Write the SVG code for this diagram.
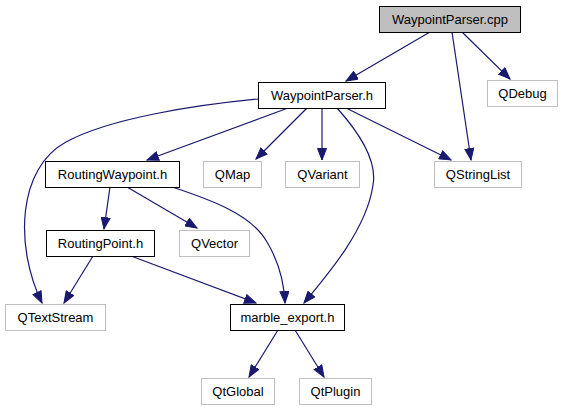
<svg xmlns="http://www.w3.org/2000/svg" width="564" height="411" viewBox="0 0 564 411">
<style>
text{font-family:"Liberation Sans",Arial,sans-serif;font-size:13px;text-anchor:middle;fill:#000}
.n rect{fill:#fff;stroke:#000;stroke-width:1}
.r rect{fill:#bfbfbf;stroke:#000;stroke-width:1}
.g rect{fill:#fff;stroke:#bfbfbf;stroke-width:1}
.e path{fill:none;stroke:#191970;stroke-width:1.2;marker-end:url(#a)}
</style>
<defs>
<marker id="a" markerWidth="13" markerHeight="10" refX="12" refY="5" orient="auto" markerUnits="userSpaceOnUse">
<path d="M0.5,0.5 L12,5 L0.5,9.5 z" fill="#191970" stroke="#191970"/>
</marker>
</defs>
<g id="edges" class="e">
<path d="M430,32 L346,81"/>
<path d="M452,32 L471,160"/>
<path d="M462,32 L510,79"/>
<path d="M258,99 C196,105 110,118 66,142 C18,168 14,245 42,303"/>
<path d="M288,108 L147,160"/>
<path d="M307,108 L256,159"/>
<path d="M322,108 L322,160"/>
<path d="M337,108 C355,128 378,158 373,185 C367,228 330,272 304,303"/>
<path d="M346,108 L451,160"/>
<path d="M110,187 L104,229"/>
<path d="M127,187 L197,228"/>
<path d="M172,187 C212,200 252,215 267,242 C279,262 284,282 285,303"/>
<path d="M93,256 L64,303"/>
<path d="M131,256 L256,303"/>
<path d="M278,330 L249,377"/>
<path d="M295,330 L324,377"/>
</g>
<g id="WaypointParser_cpp" class="r"><rect x="379.5" y="6.5" width="141" height="26"/><text x="450" y="24">WaypointParser.cpp</text></g>
<g id="QDebug" class="g"><rect x="487.5" y="80.5" width="70" height="26"/><text x="522.5" y="98">QDebug</text></g>
<g id="WaypointParser_h" class="n"><rect x="258.5" y="82.5" width="127" height="26"/><text x="322" y="100">WaypointParser.h</text></g>
<g id="RoutingWaypoint_h" class="n"><rect x="45.5" y="161.5" width="134" height="26"/><text x="112.5" y="179">RoutingWaypoint.h</text></g>
<g id="QMap" class="g"><rect x="203.5" y="161.5" width="58" height="26"/><text x="232.5" y="179">QMap</text></g>
<g id="QVariant" class="g"><rect x="285.5" y="161.5" width="74" height="26"/><text x="322.5" y="179">QVariant</text></g>
<g id="QStringList" class="g"><rect x="434.5" y="161.5" width="87" height="26"/><text x="478" y="179">QStringList</text></g>
<g id="RoutingPoint_h" class="n"><rect x="46.5" y="230.5" width="108" height="26"/><text x="100.5" y="248">RoutingPoint.h</text></g>
<g id="QVector" class="g"><rect x="179.5" y="230.5" width="70" height="26"/><text x="214.5" y="248">QVector</text></g>
<g id="QTextStream" class="g"><rect x="5.5" y="304.5" width="100" height="26"/><text x="55.5" y="322">QTextStream</text></g>
<g id="marble_export_h" class="n"><rect x="230.5" y="304.5" width="114" height="26"/><text x="287.5" y="322">marble_export.h</text></g>
<g id="QtGlobal" class="g"><rect x="201.5" y="378.5" width="73" height="26"/><text x="238" y="396">QtGlobal</text></g>
<g id="QtPlugin" class="g"><rect x="299.5" y="378.5" width="72" height="26"/><text x="335.5" y="396">QtPlugin</text></g>
</svg>
